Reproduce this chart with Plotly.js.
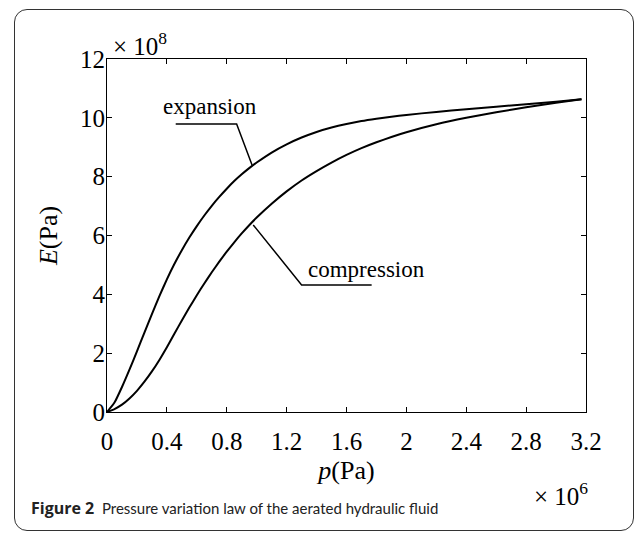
<!DOCTYPE html>
<html>
<head>
<meta charset="utf-8">
<script src="https://cdn.plot.ly/plotly-3.0.1.min.js"></script>
<style>
  html, body { margin: 0; padding: 0; background: #fff; }
  #wrap { position: relative; width: 637px; height: 534px; overflow: hidden; }
  #frame { position: absolute; left: 14px; top: 9px; width: 620px; height: 522px;
           border: 1px solid #333; border-radius: 13px; box-sizing: border-box; }
  #chart { position: absolute; left: 0; top: 0; width: 637px; height: 534px; }
</style>
</head>
<body>
<div id="wrap">
  <div id="frame"></div>
  <div id="chart"></div>
</div>
<script>
// pressure p in units of 1e6 Pa, bulk modulus E in units of 1e8 Pa
const expansionP = [0, 0.05, 0.10, 0.15, 0.20, 0.25, 0.30, 0.35, 0.40, 0.45, 0.50, 0.55, 0.60, 0.65, 0.70, 0.75, 0.80, 0.85, 0.90, 0.95, 1.00, 1.10, 1.20, 1.30, 1.40, 1.50, 1.60, 1.70, 1.80, 1.90, 2.00, 2.20, 2.40, 2.60, 2.80, 3.00, 3.17];
const expansionE = [0, 0.32, 0.85, 1.44, 2.06, 2.70, 3.33, 3.94, 4.51, 5.03, 5.50, 5.93, 6.32, 6.68, 7.01, 7.31, 7.59, 7.85, 8.08, 8.29, 8.48, 8.82, 9.10, 9.33, 9.52, 9.67, 9.79, 9.89, 9.97, 10.04, 10.10, 10.20, 10.29, 10.38, 10.46, 10.55, 10.63];

const compressionP = [0, 0.05, 0.10, 0.15, 0.20, 0.25, 0.30, 0.35, 0.40, 0.45, 0.50, 0.55, 0.60, 0.65, 0.70, 0.75, 0.80, 0.85, 0.90, 0.95, 1.00, 1.10, 1.20, 1.30, 1.40, 1.50, 1.60, 1.70, 1.80, 1.90, 2.00, 2.20, 2.40, 2.60, 2.80, 3.00, 3.17];
const compressionE = [0, 0.10, 0.25, 0.46, 0.72, 1.03, 1.38, 1.77, 2.20, 2.66, 3.11, 3.55, 3.97, 4.37, 4.75, 5.11, 5.45, 5.77, 6.07, 6.35, 6.61, 7.08, 7.50, 7.87, 8.19, 8.48, 8.74, 8.97, 9.17, 9.35, 9.51, 9.78, 10.00, 10.19, 10.36, 10.51, 10.63];

const xTickVals = [0, 0.4, 0.8, 1.2, 1.6, 2, 2.4, 2.8, 3.2];
const xTickText = ["0", "0.4", "0.8", "1.2", "1.6", "2", "2.4", "2.8", "3.2"];
const yTickVals = [0, 2, 4, 6, 8, 10, 12];
const yTickText = ["0", "2", "4", "6", "8", "10", "12"];

const serif = "Liberation Serif, Times New Roman, serif";

const traces = [
  { x: expansionP, y: expansionE, name: "expansion", type: "scatter", mode: "lines",
    line: { color: "#000", width: 2, shape: "spline", smoothing: 0.5 } },
  { x: compressionP, y: compressionE, name: "compression", type: "scatter", mode: "lines",
    line: { color: "#000", width: 2, shape: "spline", smoothing: 0.5 } }
];

const axisCommon = {
  showgrid: false, zeroline: false, showline: true, linecolor: "#000", linewidth: 1,
  mirror: "allticks", ticks: "inside", ticklen: 5, tickcolor: "#000", tickwidth: 1,
  tickfont: { family: serif, size: 25, color: "#000" }
};

const layout = {
  width: 637, height: 534,
  margin: { l: 107, r: 51, t: 59, b: 122 },
  paper_bgcolor: "rgba(0,0,0,0)", plot_bgcolor: "#fff",
  showlegend: false,
  xaxis: Object.assign({}, axisCommon, {
    range: [0, 3.2], tickmode: "array", tickvals: xTickVals, ticktext: xTickText,
    ticklabelstandoff: 7,
    title: { text: "<i>p</i>(Pa)", font: { family: serif, size: 26, color: "#000" }, standoff: 6 }
  }),
  yaxis: Object.assign({}, axisCommon, {
    range: [0, 12], tickmode: "array", tickvals: yTickVals, ticktext: yTickText,
    ticklabelstandoff: -4,
    title: { text: "<i>E</i>(Pa)", font: { family: serif, size: 26, color: "#000" }, standoff: 14 }
  }),
  shapes: [
    { type: "path", xref: "x", yref: "y", path: "M0.459,9.79 L0.866,9.79 L0.969,8.40",
      line: { color: "#000", width: 1.5 } },
    { type: "path", xref: "x", yref: "y", path: "M1.768,4.32 L1.300,4.32 L0.977,6.36",
      line: { color: "#000", width: 1.5 } }
  ],
  annotations: [
    { text: "expansion", xref: "x", yref: "y", x: 0.36, y: 10.37, xanchor: "left", yanchor: "middle",
      showarrow: false, font: { family: serif, size: 23, color: "#000" } },
    { text: "compression", xref: "x", yref: "y", x: 1.33, y: 4.83, xanchor: "left", yanchor: "middle",
      showarrow: false, font: { family: serif, size: 23, color: "#000" } },
    { text: "× 10<sup>8</sup>", xref: "paper", yref: "paper", x: 0.008, y: 1.0, xanchor: "left", yanchor: "bottom",
      yshift: -3, showarrow: false, font: { family: serif, size: 25, color: "#000" } },
    { text: "× 10<sup>6</sup>", xref: "paper", yref: "paper", x: 1.008, y: -0.181, xanchor: "right", yanchor: "top",
      showarrow: false, font: { family: serif, size: 25, color: "#000" } },
    { text: "<span style=\"font-family:'Open Sans';font-size:16px;font-weight:bold\">Figure 2</span>  Pressure variation law of the aerated hydraulic fluid",
      xref: "paper", yref: "paper",
      x: -0.163, y: -0.272, xanchor: "left", yanchor: "middle", showarrow: false,
      font: { family: "Lato, Roboto, sans-serif", size: 15, color: "#222" } }
  ]
};

Plotly.newPlot("chart", traces, layout, { displayModeBar: false, staticPlot: true });
</script>
</body>
</html>
